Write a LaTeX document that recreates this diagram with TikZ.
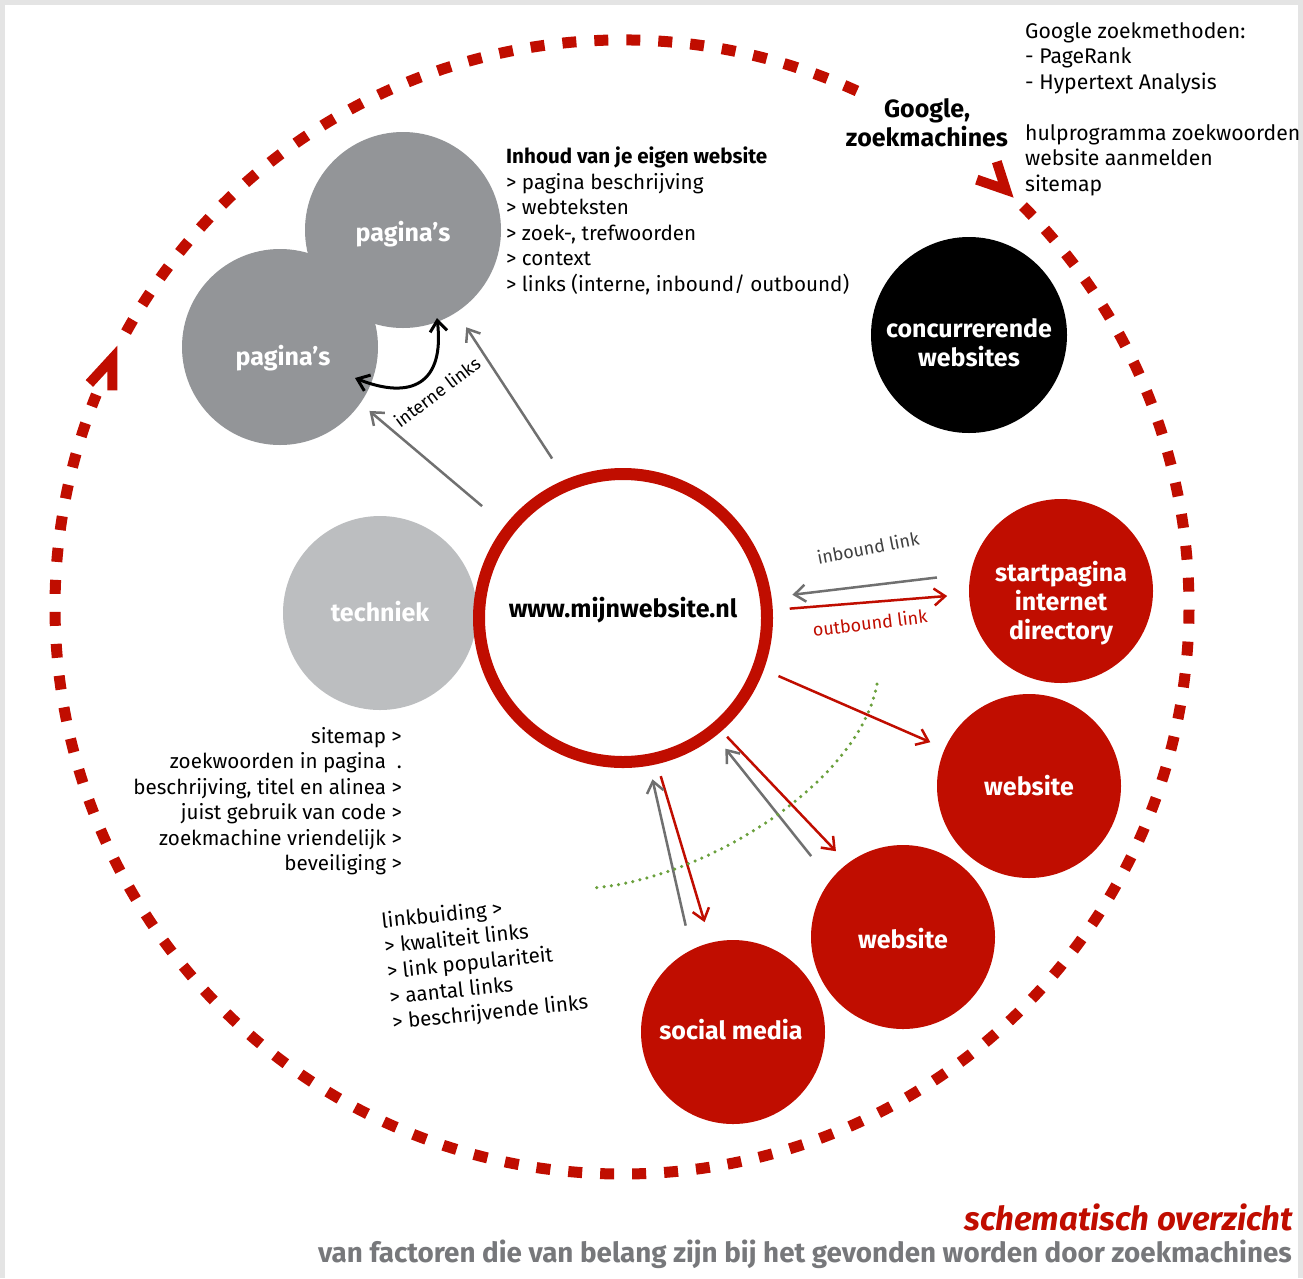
\documentclass[tikz,border=0pt]{standalone}
\usepackage{fontspec}
\setmainfont{Fira Sans}
\usetikzlibrary{arrows.meta,calc}

\definecolor{seored}{RGB}{192,13,0}
\definecolor{pagegray}{RGB}{147,149,152}
\definecolor{techgray}{RGB}{188,190,192}
\definecolor{arrowgray}{RGB}{112,112,112}
\definecolor{titlegray}{RGB}{119,120,123}
\definecolor{dotgreen}{RGB}{106,160,60}
\definecolor{framegray}{RGB}{228,228,228}

\begin{document}
\begin{tikzpicture}[x=1pt, y=-1pt, >={Straight Barb[length=11pt,width=17pt]},
    bol/.style={circle, minimum size=#1, inner sep=0pt, outer sep=0pt},
    lbl/.style={inner sep=0pt, text=white, align=center, font=\bfseries\fontsize{25}{29}\selectfont},
    txt/.style={inner sep=0pt, font=\fontsize{20.6}{25.5}\selectfont},
    grijspijl/.style={->, line width=2.5pt, draw=arrowgray},
    roodpijl/.style={->, line width=2.5pt, draw=seored},
    ringdash/.style={draw=seored, line width=11pt, dash pattern=on 14pt off 18pt},
    chevron/.style={draw=seored, line width=10pt}]

    % 1. kader en achtergrond
    \useasboundingbox (0,0) rectangle (1303,1278);
    \fill[framegray] (0,0) rectangle (1303,1278);
    \fill[white] (5,5) rectangle (1298,1278);

    % 2. grote gestippelde cirkel (Google)
    \coordinate (gc) at (622,607);
    \draw[ringdash] ($(gc)+(-405:567)$) arc[start angle=-405, end angle=-158, radius=567];
    \draw[ringdash] ($(gc)+(-151:567)$) arc[start angle=-151, end angle=-64, radius=567];
    \coordinate (tipL) at ($(gc)+(-154:567)$);
    \coordinate (tipR) at ($(gc)+(-47.4:567)$);
    \draw[chevron] ($(tipL)+(-23,25)$) -- (tipL) -- ($(tipL)+(0,32)$);
    \draw[chevron] ($(tipR)+(-9,-28)$) -- (tipR) -- ($(tipR)+(-29,-10)$);

    % 3. cirkels
    \node[bol=196pt, fill=pagegray] (pag1) at (403,230) {};
    \node[bol=196pt, fill=pagegray] (pag2) at (280,347) {};
    \node[bol=194pt, fill=techgray] (tech) at (380,613) {};
    \node[bol=288pt, draw=seored, line width=12pt, fill=white] (main) at (623,618) {};
    \node[bol=196pt, fill=black] (conc) at (969,335) {};
    \node[bol=184pt, fill=seored] (start) at (1061,591) {};
    \node[bol=184pt, fill=seored] (web1) at (1029,786) {};
    \node[bol=184pt, fill=seored] (web2) at (903,937) {};
    \node[bol=184pt, fill=seored] (social) at (733,1032) {};

    \node[lbl] (pag1txt) at ($(pag1)+(0,4)$) {pagina’s};
    \node[lbl] (pag2txt) at ($(pag2)+(3,11)$) {pagina’s};
    \node[lbl] (techtxt) at ($(tech)+(0,-1)$) {techniek};
    \node[lbl, text=black] (maintxt) at ($(main)+(0,-8)$) {www.mijnwebsite.nl};
    \node[lbl] (conctxt) at ($(conc)+(0,8)$) {concurrerende\\websites};
    \node[lbl] (starttxt) at ($(start)+(0,12)$) {startpagina\\internet\\directory};
    \node[lbl] (web1txt) at (web1) {website};
    \node[lbl] (web2txt) at ($(web2)+(0,2)$) {website};
    \node[lbl] (socialtxt) at ($(social)+(-2,-2)$) {social media};

    % 4. interne links
    \draw[grijspijl, shorten <=36pt, shorten >=12pt] (main.142) -- (pag2.-35);
    \draw[grijspijl, shorten <=31pt, shorten >=18pt] (main.112) -- (pag1.-57);
    \coordinate (ia) at ($(pag2)+(75,31)$);
    \coordinate (ib) at ($(pag1)+(34,88)$);
    \draw[<->, line width=3pt] (ia) .. controls ($(ia)+(55,22)$) and ($(ib)+(8,67)$) .. (ib);
    \node[txt, rotate=37, font=\fontsize{18}{22}\selectfont] (intlbl) at (437,392) {interne links};

    % 5. inbound / outbound
    \draw[grijspijl, shorten <=34pt, shorten >=27pt] (start.169.5) -- (main.8.4);
    \draw[roodpijl, shorten <=23pt, shorten >=22pt] (main.3.8) -- (start.-178.5);
    \node[txt, rotate=11, text=darkgray, font=\fontsize{18}{22}\selectfont] (inlbl) at (868,548) {inbound link};
    \node[txt, rotate=7, text=seored, font=\fontsize{18}{22}\selectfont] (outlbl) at (870,623) {outbound link};

    % 6. links naar andere websites
    \draw[roodpijl, shorten <=22pt, shorten >=16pt] (main.-20.4) -- (web1.156);
    \draw[roodpijl, shorten <=14pt, shorten >=17pt] (main.-49.4) -- (web2.127.9);
    \draw[grijspijl, shorten <=31pt, shorten >=22pt] (web2.142.6) -- (main.-52.6);
    \draw[roodpijl, shorten <=18.6pt, shorten >=21.5pt] (main.-77.9) -- (social.104.3);
    \draw[grijspijl, shorten <=25pt, shorten >=20pt] (social.117.4) -- (main.-80.5);

    % 7. groene stippellijn
    \draw[dotgreen, line width=3.5pt, line cap=round, dash pattern=on 0pt off 7.3pt]
          ($(main)+(254,66)$) .. controls ($(main)+(237,162)$) and ($(main)+(87,260)$) .. ($(main)+(-30,270)$);

    % 8. teksten
    \node[font=\bfseries\fontsize{25}{29}\selectfont, align=center, inner sep=0pt] (google) at (927,123) {Google,\\zoekmachines};
    \node[txt, anchor=north west, align=left, font=\fontsize{21.2}{25.5}\selectfont] (methoden) at (1025,22)
          {Google zoekmethoden:\\- PageRank\\- Hypertext Analysis\\[25.5pt]hulprogramma zoekwoorden\\website aanmelden\\sitemap};
    \node[txt, anchor=north west, align=left] (inhoud) at (506,147)
          {\textbf{Inhoud van je eigen website}\\> pagina beschrijving\\> webteksten\\> zoek-, trefwoorden\\> context\\> links (interne, inbound/ outbound)};
    \node[txt, anchor=north east, align=right] (techlist) at (402,727)
          {sitemap >\\zoekwoorden in pagina\ \ .\\beschrijving, titel en alinea >\\juist gebruik van code >\\zoekmachine vriendelijk >\\beveiliging >};
    \node[txt, anchor=west, align=left, rotate=6] (linklist) at (387,973)
          {linkbuiding >\\> kwaliteit links\\> link populariteit\\> aantal links\\> beschrijvende links};

    % 9. titel
    \node[anchor=base east, inner sep=0pt, text=seored, font=\bfseries\itshape\fontsize{33}{33}\selectfont]
          (titel) at (1293,1230) {schematisch overzicht};
    \node[anchor=base east, inner sep=0pt, text=titlegray, font=\bfseries\fontsize{27.8}{27.8}\selectfont]
          (subtitel) at (1292,1262) {van factoren die van belang zijn bij het gevonden worden door zoekmachines};
\end{tikzpicture}
\end{document}
